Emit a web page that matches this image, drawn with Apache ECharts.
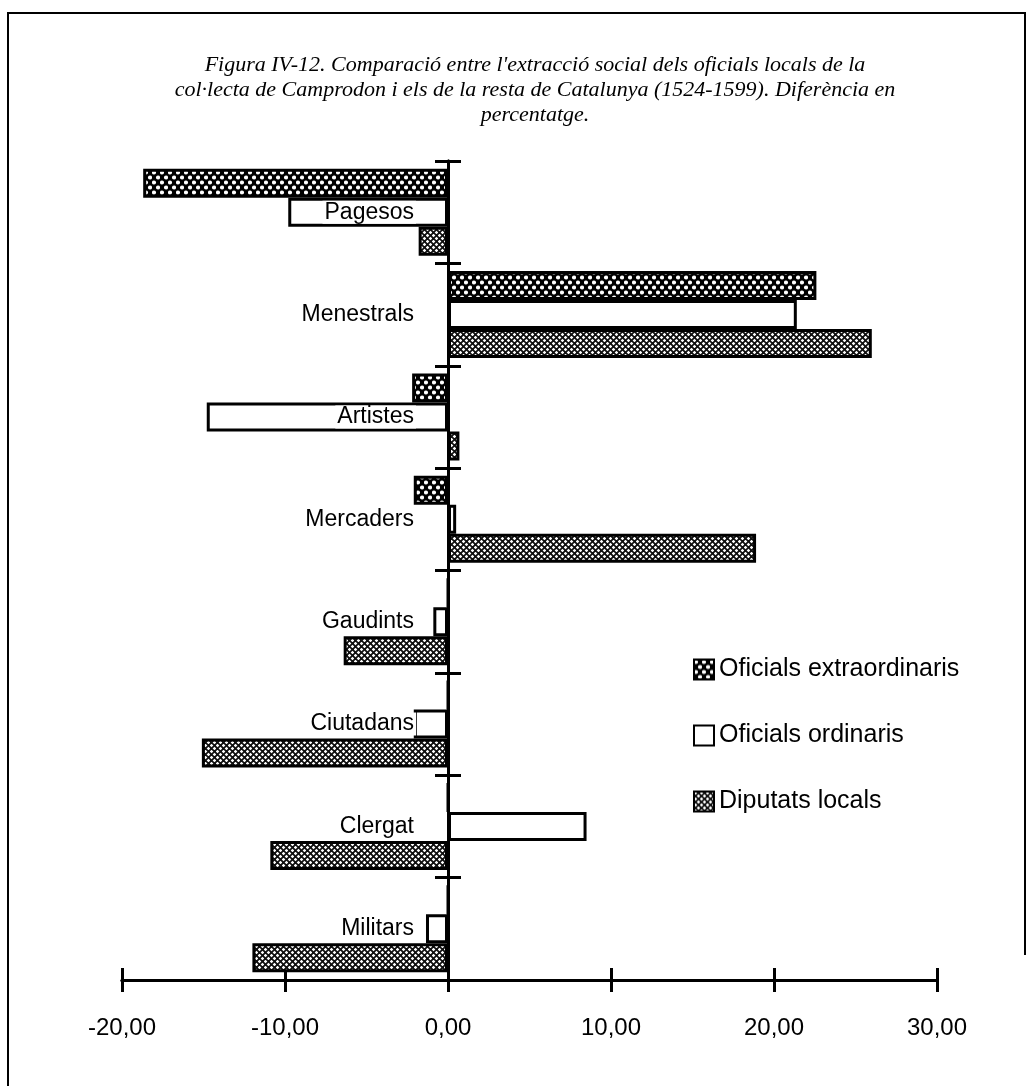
<!DOCTYPE html>
<html>
<head>
<meta charset="utf-8">
<script src="https://cdn.jsdelivr.net/npm/echarts@6/dist/echarts.min.js"></script>
<style>
  html, body { margin: 0; padding: 0; background: #fff; }
  #chart { width: 1034px; height: 1086px; }
</style>
</head>
<body>
<div id="chart"></div>
<script>
const categories = ['Pagesos', 'Menestrals', 'Artistes', 'Mercaders', 'Gaudints', 'Ciutadans', 'Clergat', 'Militars']
const seriesNames = ['Oficials extraordinaris', 'Oficials ordinaris', 'Diputats locals']
const extraordinaris = [-18.7, 22.6, -2.2, -2.1, 0, 0, 0, 0]
const ordinaris = [-9.8, 21.4, -14.8, 0.5, -0.9, -2.1, 8.5, -1.35]
const diputats = [-1.8, 26.0, 0.7, 18.9, -6.4, -15.1, -10.9, -12.0]
const titleLines = [
  "Figura IV-12. Comparació entre l'extracció social dels oficials locals de la",
  "col·lecta de Camprodon i els de la resta de Catalunya (1524-1599). Diferència en",
  'percentatge.'
]
const xMin = -20
const xMax = 30

// patrons de farciment
const makeDots = () => {
  const c = document.createElement('canvas')
  c.width = 8
  c.height = 10
  const ctx = c.getContext('2d')
  ctx.fillStyle = '#000'
  ctx.fillRect(0, 0, 8, 10)
  ctx.fillStyle = '#fff'
  ;[[2, 2.5], [6, 7.5]].forEach(([x, y]) => {
    ctx.beginPath()
    ctx.arc(x, y, 2.1, 0, Math.PI * 2)
    ctx.fill()
  })
  return c
}
const makeDiamonds = () => {
  const c = document.createElement('canvas')
  c.width = 6
  c.height = 6
  const ctx = c.getContext('2d')
  ctx.fillStyle = '#111'
  ctx.fillRect(0, 0, 6, 6)
  ctx.fillStyle = '#fff'
  const diamond = (x, y) => {
    ctx.beginPath()
    ctx.moveTo(x, y - 1.8)
    ctx.lineTo(x + 1.8, y)
    ctx.lineTo(x, y + 1.8)
    ctx.lineTo(x - 1.8, y)
    ctx.closePath()
    ctx.fill()
  }
  diamond(1.5, 1.5)
  diamond(4.5, 4.5)
  return c
}

const fmt = (v) => v.toFixed(2).replace('.', ',')
const myChart = echarts.init(document.getElementById('chart'))

const gridLeft = 122
const gridRight = 97
const plotWidth = 1034 - gridLeft - gridRight
// l'eix vertical passa pel zero
const yOffset = -plotWidth * (0 - xMin) / (xMax - xMin)

const barStyle = (color) => ({
  color: color,
  borderColor: '#000',
  borderWidth: 3
})
const blackLine = { color: '#000', width: 3 }

const option = {
  backgroundColor: '#fff',
  animation: false,
  title: {
    text: titleLines.join('\n'),
    left: 530,
    top: 48,
    textAlign: 'center',
    textStyle: {
      fontFamily: 'Liberation Serif',
      fontStyle: 'italic',
      fontWeight: 'normal',
      fontSize: 22,
      lineHeight: 25,
      color: '#000'
    }
  },
  legend: {
    orient: 'vertical',
    left: 688,
    top: 652,
    itemWidth: 20,
    itemHeight: 20,
    itemGap: 41,
    icon: 'rect',
    textStyle: { fontFamily: 'Liberation Sans', fontSize: 25, color: '#000' },
    data: seriesNames
  },
  grid: { left: gridLeft, right: gridRight, top: 161, bottom: 106 },
  xAxis: [
    {
      type: 'value',
      position: 'bottom',
      min: xMin,
      max: xMax,
      interval: 10,
      splitLine: { show: false },
      axisLine: { show: true, onZero: false, lineStyle: blackLine },
      axisTick: { show: true, length: 12, lineStyle: blackLine },
      axisLabel: {
        formatter: fmt,
        margin: 36,
        fontFamily: 'Liberation Sans',
        fontSize: 24,
        color: '#000'
      }
    },
    {
      type: 'value',
      position: 'bottom',
      min: xMin,
      max: xMax,
      interval: 10,
      splitLine: { show: false },
      axisLine: { show: true, onZero: false, lineStyle: blackLine },
      axisTick: { show: true, inside: true, length: 12, lineStyle: blackLine },
      axisLabel: { show: false }
    }
  ],
  yAxis: [
    {
      type: 'category',
      inverse: true,
      data: categories,
      position: 'left',
      offset: yOffset,
      z: 5,
      axisLine: { show: true, onZero: false, lineStyle: blackLine },
      axisTick: { show: true, length: 13, lineStyle: blackLine },
      axisLabel: {
        margin: 32,
        fontFamily: 'Liberation Sans',
        fontSize: 23,
        color: '#000',
        backgroundColor: '#fff',
        padding: [0, 2]
      }
    },
    {
      type: 'category',
      inverse: true,
      data: categories,
      position: 'left',
      offset: yOffset,
      z: 5,
      axisLine: { show: true, onZero: false, lineStyle: blackLine },
      axisTick: { show: true, inside: true, length: 13, lineStyle: blackLine },
      axisLabel: { show: false }
    }
  ],
  graphic: [
    {
      type: 'polyline',
      shape: { points: [[8, 1086], [8, 13], [1025, 13], [1025, 955]] },
      style: { stroke: '#000', lineWidth: 2, fill: null }
    }
  ],
  series: [
    {
      name: seriesNames[0],
      type: 'bar',
      barWidth: 29,
      barGap: '0%',
      data: extraordinaris,
      itemStyle: barStyle({ image: makeDots(), repeat: 'repeat' })
    },
    {
      name: seriesNames[1],
      type: 'bar',
      barWidth: 29,
      barGap: '0%',
      data: ordinaris,
      itemStyle: barStyle('#fff')
    },
    {
      name: seriesNames[2],
      type: 'bar',
      barWidth: 29,
      barGap: '0%',
      data: diputats,
      itemStyle: barStyle({ image: makeDiamonds(), repeat: 'repeat' })
    }
  ]
}
option && myChart.setOption(option)
</script>
</body>
</html>
